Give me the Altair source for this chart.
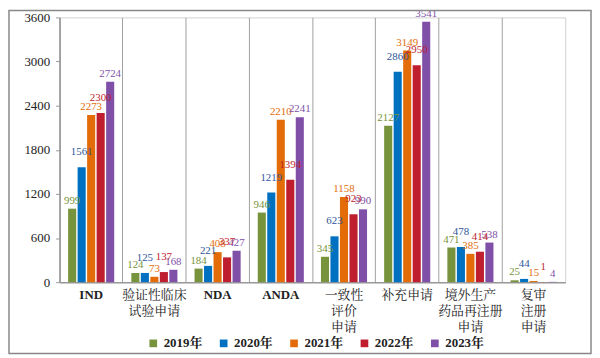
import altair as alt
import pandas as pd

categories = ["IND", "验证性临床\n试验申请", "NDA", "ANDA", "一致性\n评价\n申请",
              "补充申请", "境外生产\n药品再注册\n申请", "复审\n注册\n申请"]
years = ["2019年", "2020年", "2021年", "2022年", "2023年"]
v2019 = [999, 124, 184, 946, 345, 2127, 471, 25]
v2020 = [1561, 125, 221, 1219, 623, 2860, 478, 44]
v2021 = [2273, 73, 408, 2210, 1158, 3149, 385, 15]
v2022 = [2300, 137, 337, 1394, 923, 2950, 414, 1]
v2023 = [2724, 168, 427, 2241, 990, 3541, 538, 4]
y_ticks = [0, 600, 1200, 1800, 2400, 3000, 3600]

bar_colors = ["#77933C", "#0070C0", "#E36C09", "#BE1E2D", "#8050A8"]
label_colors = ["#77933C", "#2E5597", "#E36C09", "#BE1E2D", "#8050A8"]

rows = []
for yr, vals in zip(years, [v2019, v2020, v2021, v2022, v2023]):
    for c, v in zip(categories, vals):
        rows.append({"cat": c, "year": yr, "value": v})
df = pd.DataFrame(rows)

serif = "Liberation Serif, Noto Serif CJK SC, Noto Sans CJK SC"

x_enc = alt.X("cat:N", sort=categories, title=None,
              scale=alt.Scale(paddingInner=0, paddingOuter=0),
              axis=alt.Axis(labelAngle=0, labelExpr="split(datum.label, '\\n')",
                            labelFont=serif, labelFontSize=13, labelColor="#222",
                            labelLineHeight=16, labelPadding=7,
                            labelFontWeight={"condition": {"test": "indexof(['IND','NDA','ANDA'], datum.value) >= 0", "value": "bold"}, "value": "normal"},
                            grid=True, gridColor="#a0a0a0", gridWidth=1, bandPosition=0,
                            ticks=False, domainColor="#999", domainWidth=1.5))
xoff = alt.XOffset("year:N", sort=years,
                   scale=alt.Scale(paddingInner=0.15, paddingOuter=0.9))
y_enc = alt.Y("value:Q", title=None,
              scale=alt.Scale(domain=[0, 3600], nice=False),
              axis=alt.Axis(values=y_ticks, format="d", labelFont=serif, labelFontSize=13,
                            labelColor="#222", grid=False, domainColor="#999",
                            domainWidth=1.5, tickColor="#999", tickSize=4, labelPadding=6))

bars = alt.Chart(df).mark_bar().encode(
    x=x_enc, xOffset=xoff, y=y_enc,
    color=alt.Color("year:N", sort=years,
                    scale=alt.Scale(domain=years, range=bar_colors),
                    legend=alt.Legend(title=None, orient="none", legendX=88, legendY=322,
                                      direction="horizontal", symbolType="square",
                                      symbolSize=60, columnPadding=14, labelLimit=200,
                                      labelFont=serif, labelFontSize=13,
                                      labelFontWeight="bold", labelColor="#222",
                                      symbolStrokeWidth=0))
)

def text_layer(yrs, dy):
    return alt.Chart(df).transform_filter(
        alt.FieldOneOfPredicate(field="year", oneOf=yrs)
    ).mark_text(baseline="bottom", dy=dy, font=serif, fontSize=11).encode(
        x=alt.X("cat:N", sort=categories), xOffset=xoff, y="value:Q",
        text="value:Q",
        color=alt.Color("year:N", sort=years,
                        scale=alt.Scale(domain=years, range=label_colors), legend=None)
    )

texts_a = text_layer(["2019年", "2021年", "2023年"], -3)
texts_b = text_layer(["2020年", "2022年"], -10)

frame = alt.Chart(pd.DataFrame({"a": [0]})).mark_rect(
    fill=None, stroke="#888", strokeWidth=1.5).encode(
    x=alt.value(-51), x2=alt.value(536), y=alt.value(-7), y2=alt.value(339))

chart = alt.layer(bars, texts_a, texts_b, frame).resolve_scale(color="independent").properties(
    width=510, height=267,
    autosize=alt.AutoSizeParams(type="none"),
    padding={"left": 52, "top": 8, "right": 27, "bottom": 73},
).configure_view(stroke="#d0d0d0", strokeWidth=1)

chart.save("out.html", embed_options={"renderer": "svg", "actions": False})
